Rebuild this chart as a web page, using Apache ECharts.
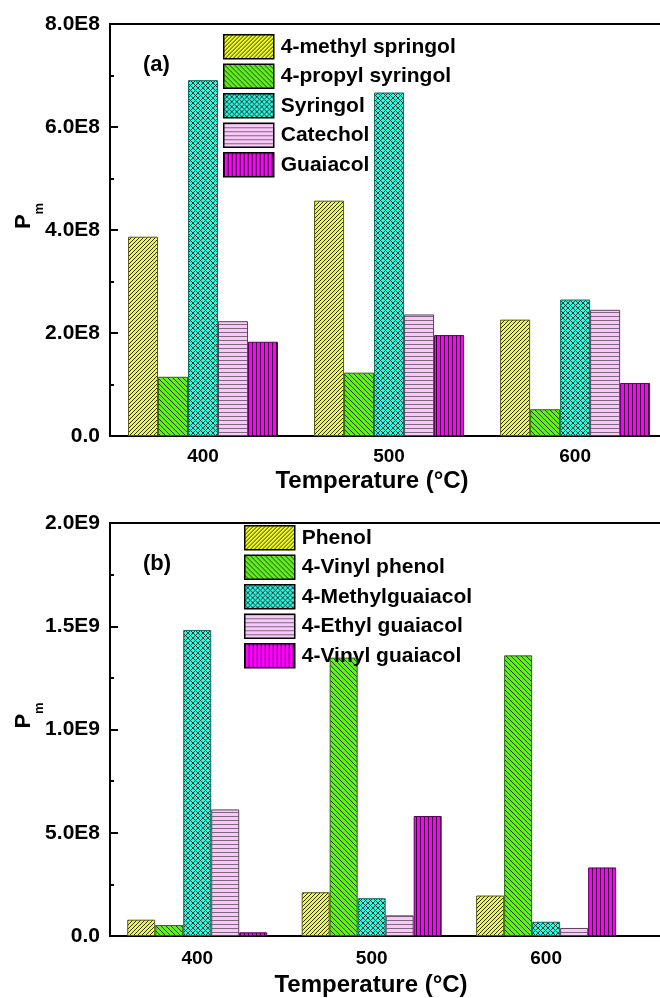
<!DOCTYPE html>
<html>
<head>
<meta charset="utf-8">
<script src="https://cdn.jsdelivr.net/npm/echarts@6/dist/echarts.min.js"></script>
<style>
html, body { margin: 0; padding: 0; background: #fff; }
#main { width: 660px; height: 998px; }
</style>
</head>
<body>
<div id="main"></div>
<script>
var temps = [400, 500, 600];

// panel (a)
var namesA = ['4-methyl springol', '4-propyl syringol', 'Syringol', 'Catechol', 'Guaiacol'];
var methylSyringol = [3.87e8, 4.57e8, 2.26e8];
var propylSyringol = [1.15e8, 1.23e8, 0.52e8];
var syringol = [6.91e8, 6.67e8, 2.65e8];
var catechol = [2.23e8, 2.36e8, 2.45e8];
var guaiacol = [1.83e8, 1.96e8, 1.03e8];
var ticksA = ['0.0', '2.0E8', '4.0E8', '6.0E8', '8.0E8'];

// panel (b)
var namesB = ['Phenol', '4-Vinyl phenol', '4-Methylguaiacol', '4-Ethyl guaiacol', '4-Vinyl guaiacol'];
var phenol = [0.79e8, 2.12e8, 1.96e8];
var vinylPhenol = [0.53e8, 13.48e8, 13.59e8];
var methylGuaiacol = [14.82e8, 1.83e8, 0.69e8];
var ethylGuaiacol = [6.13e8, 1.00e8, 0.39e8];
var vinylGuaiacol = [0.18e8, 5.81e8, 3.32e8];
var ticksB = ['0.0', '5.0E8', '1.0E9', '1.5E9', '2.0E9'];

var font = '"Liberation Sans", Arial, sans-serif';

function makePattern(base, ink, n, test) {
    var c = document.createElement('canvas');
    c.width = n; c.height = n;
    var g = c.getContext('2d');
    g.fillStyle = base;
    g.fillRect(0, 0, n, n);
    g.fillStyle = ink;
    for (var x = 0; x < n; x++) {
        for (var y = 0; y < n; y++) {
            if (test(x, y, n)) g.fillRect(x, y, 1, 1);
        }
    }
    return { image: c, repeat: 'repeat' };
}

var fills = [
    makePattern('#eefc2a', '#2a2a10', 4, function (x, y, n) { return (x + y) % n == 0; }),
    makePattern('#62f01c', '#1a3a08', 5, function (x, y, n) { return (x - y + n) % n == 0; }),
    makePattern('#2ef8e0', '#0c3a34', 5, function (x, y, n) { return (x + y) % n == 0 || (x - y + n) % n == 0; }),
    makePattern('#f8c8f8', '#806680', 4, function (x, y, n) { return y == 0; }),
    makePattern('#ff00ff', '#300030', 4, function (x, y, n) { return x == 0; })
];
var borders = ['#5a5a10', '#2a6a10', '#106a60', '#5a405a', '#5a005a'];

function bars(names, values, idx, w) {
    return names.map(function (nm, i) {
        return {
            name: nm,
            type: 'bar',
            xAxisIndex: idx,
            yAxisIndex: idx,
            data: values[i].map(function (v, k) { return [temps[k], v]; }),
            barWidth: w,
            barGap: '0%',
            itemStyle: { color: fills[i], borderColor: borders[i], borderWidth: 1 }
        };
    });
}

function xAx(idx, max, labelGap, nameGap, shift) {
    return {
        type: 'value',
        gridIndex: idx,
        min: 350,
        max: max,
        interval: 50,
        name: 'Temperature (\u00b0C)',
        nameLocation: 'middle',
        nameGap: nameGap,
        nameMoveOverlap: false,
        nameTextStyle: { fontFamily: font, fontWeight: 'bold', fontSize: 24, color: '#000', padding: [0, shift, 0, 0], verticalAlign: 'top' },
        axisLine: { show: true, lineStyle: { color: '#000', width: 2 } },
        axisTick: { show: false },
        axisLabel: {
            fontFamily: font, fontWeight: 'bold', fontSize: 19, color: '#000', margin: labelGap,
            showMinLabel: false, showMaxLabel: false,
            formatter: function (v) { return temps.indexOf(v) >= 0 ? String(v) : ''; }
        },
        splitLine: { show: false }
    };
}

function yAx(idx, max, labels) {
    var step = max / (labels.length - 1);
    return {
        type: 'value',
        gridIndex: idx,
        min: 0,
        max: max,
        interval: step,
        name: '{p|P}{s|m}',
        nameLocation: 'middle',
        nameRotate: 90,
        nameGap: 64,
        nameMoveOverlap: false,
        nameTextStyle: {
            padding: [0, 0, 0, 28],
            rich: {
                p: { fontFamily: font, fontWeight: 'bold', fontSize: 22, color: '#000', lineHeight: 44, verticalAlign: 'middle' },
                s: { fontFamily: font, fontWeight: 'bold', fontSize: 13, color: '#000', lineHeight: 13, verticalAlign: 'bottom' }
            }
        },
        axisLine: { show: true, lineStyle: { color: '#000', width: 2 } },
        axisTick: { show: true, inside: true, length: 8, lineStyle: { color: '#000', width: 2 } },
        minorTick: { show: true, splitNumber: 2, length: 4, lineStyle: { color: '#000', width: 2 } },
        axisLabel: {
            fontFamily: font, fontWeight: 'bold', fontSize: 21, color: '#000', margin: 10,
            formatter: function (v) { return labels[Math.round(v / step)]; }
        },
        splitLine: { show: false }
    };
}

function legendAt(names, left, top) {
    return {
        data: names,
        orient: 'vertical',
        left: left,
        top: top,
        padding: 0,
        z: 10,
        itemWidth: 50,
        itemHeight: 24,
        itemGap: 4,
        icon: 'rect',
        selectedMode: false,
        itemStyle: { borderColor: '#000', borderWidth: 1.5 },
        textStyle: { fontFamily: font, fontWeight: 'bold', fontSize: 21, color: '#000', padding: [0, 0, 0, 2] }
    };
}

var chart = echarts.init(document.getElementById('main'));
var option = {
    animation: false,
    backgroundColor: '#fff',
    title: [
        { text: '(a)', left: 143, top: 54, padding: 0, textStyle: { fontFamily: font, fontWeight: 'bold', fontSize: 22, color: '#000' } },
        { text: '(b)', left: 143, top: 553, padding: 0, textStyle: { fontFamily: font, fontWeight: 'bold', fontSize: 22, color: '#000' } }
    ],
    legend: [legendAt(namesA, 223, 34), legendAt(namesB, 244, 525)],
    grid: [
        { left: 110, width: 560, top: 24, height: 412, show: true, borderColor: '#000', borderWidth: 2, containLabel: false, outerBoundsMode: 'none' },
        { left: 110, width: 560, top: 523, height: 413, show: true, borderColor: '#000', borderWidth: 2, containLabel: false, outerBoundsMode: 'none' }
    ],
    xAxis: [xAx(0, 651, 11, 33, 36), xAx(1, 671, 13, 37, 38)],
    yAxis: [yAx(0, 8e8, ticksA), yAx(1, 2e9, ticksB)],
    series: bars(namesA, [methylSyringol, propylSyringol, syringol, catechol, guaiacol], 0, 30)
        .concat(bars(namesB, [phenol, vinylPhenol, methylGuaiacol, ethylGuaiacol, vinylGuaiacol], 1, 28))
};
chart.setOption(option);
window.addEventListener('resize', function () {
    chart.resize();
});
</script>
</body>
</html>
